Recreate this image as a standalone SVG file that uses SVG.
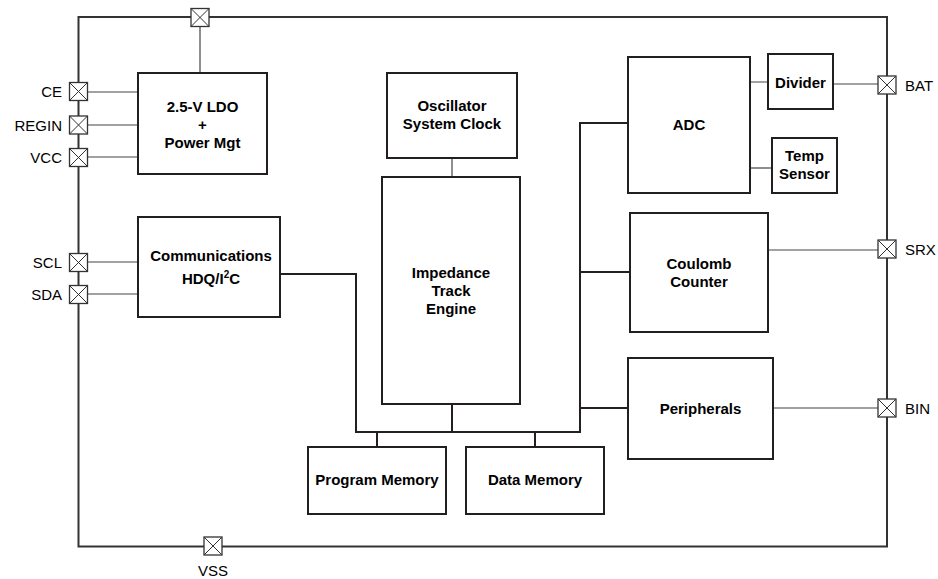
<svg xmlns="http://www.w3.org/2000/svg" width="938" height="579" viewBox="0 0 938 579">
<defs>
<style>
.box{fill:#fff;stroke:#231f20;stroke-width:2}
.bold{font-family:"Liberation Sans",Arial,sans-serif;font-weight:bold;font-size:15px;fill:#000;text-anchor:middle}
.lbl{font-family:"Liberation Sans",Arial,sans-serif;font-size:15px;fill:#000}
.thin{fill:none;stroke:#444;stroke-width:1.2}
.bus{fill:none;stroke:#231f20;stroke-width:2}
.border{fill:none;stroke:#333;stroke-width:2}
.pin rect{fill:#fff;stroke:#333;stroke-width:1.3}
.pin path{stroke:#333;stroke-width:1;fill:none}
</style>
<g id="pinsym" class="pin"><rect x="-9" y="-9" width="18" height="18"/><path d="M-9,-9 L9,9 M9,-9 L-9,9"/></g>
</defs>
<rect width="938" height="579" fill="#fff"/>
<rect id="chip" class="border" x="78.5" y="17" width="808.5" height="529.5"/>

<g id="connectors">
<path class="thin" d="M200,26 V73"/>
<path class="thin" d="M88,92 H138 M88,125 H138 M88,157 H138"/>
<path class="thin" d="M88,262 H138 M88,294 H138"/>
<path class="thin" d="M452,158 V177"/>
<path class="thin" d="M750,82 H768 M833,84 H878"/>
<path class="thin" d="M750,168 H772"/>
<path class="thin" d="M768,250 H878"/>
<path class="thin" d="M773,408 H878"/>
<path class="bus" d="M280,274 H356 V432 H580 V123 H628"/>
<path class="bus" d="M580,272 H630"/>
<path class="bus" d="M580,408 H628"/>
<path class="bus" d="M452,404 V432"/>
<path class="bus" d="M377,432 V447"/>
<path class="bus" d="M535,432 V447"/>
</g>

<g id="pins">
<use href="#pinsym" x="200" y="17.5"/>
<use href="#pinsym" x="78.5" y="91.5"/>
<use href="#pinsym" x="78.5" y="125"/>
<use href="#pinsym" x="78.5" y="157.5"/>
<use href="#pinsym" x="78.5" y="262.5"/>
<use href="#pinsym" x="78.5" y="294.5"/>
<use href="#pinsym" x="887" y="85"/>
<use href="#pinsym" x="887" y="249"/>
<use href="#pinsym" x="887" y="408"/>
<use href="#pinsym" x="213" y="546"/>
<g class="lbl">
<text x="62" y="97" text-anchor="end">CE</text>
<text x="62" y="130.5" text-anchor="end">REGIN</text>
<text x="62" y="162.5" text-anchor="end">VCC</text>
<text x="62" y="267.5" text-anchor="end">SCL</text>
<text x="62" y="300" text-anchor="end">SDA</text>
<text x="905" y="90.5">BAT</text>
<text x="905" y="254.5">SRX</text>
<text x="905" y="413.5">BIN</text>
<text x="213" y="576" text-anchor="middle">VSS</text>
</g>
</g>

<g id="ldo"><rect class="box" x="138" y="73" width="129" height="101"/>
<text class="bold" x="202.5" y="112">2.5-V LDO</text><text class="bold" x="202.5" y="130">+</text><text class="bold" x="202.5" y="148">Power Mgt</text></g>

<g id="comm"><rect class="box" x="138" y="217" width="142" height="100"/>
<text class="bold" x="211" y="261">Communications</text><text class="bold" x="211" y="284">HDQ/I<tspan font-size="10" dy="-6">2</tspan><tspan dy="6">C</tspan></text></g>

<g id="osc"><rect class="box" x="387" y="73" width="130" height="85"/>
<text class="bold" x="452" y="111">Oscillator</text><text class="bold" x="452" y="129">System Clock</text></g>

<g id="engine"><rect class="box" x="382" y="177" width="138" height="227"/>
<text class="bold" x="451" y="278">Impedance</text><text class="bold" x="451" y="296">Track</text><text class="bold" x="451" y="314">Engine</text></g>

<g id="progmem"><rect class="box" x="308" y="447" width="138" height="67"/>
<text class="bold" x="377" y="485">Program Memory</text></g>

<g id="datamem"><rect class="box" x="466" y="447" width="138" height="67"/>
<text class="bold" x="535" y="485">Data Memory</text></g>

<g id="adc"><rect class="box" x="628" y="57" width="122" height="136"/>
<text class="bold" x="689" y="130">ADC</text></g>

<g id="divider"><rect class="box" x="768" y="54" width="65" height="55"/>
<text class="bold" x="800.5" y="88">Divider</text></g>

<g id="temp"><rect class="box" x="772" y="138" width="65" height="55"/>
<text class="bold" x="804.5" y="161">Temp</text><text class="bold" x="804.5" y="179">Sensor</text></g>

<g id="coulomb"><rect class="box" x="630" y="213" width="138" height="119"/>
<text class="bold" x="699" y="269">Coulomb</text><text class="bold" x="699" y="287">Counter</text></g>

<g id="peripherals"><rect class="box" x="628" y="358" width="145" height="101"/>
<text class="bold" x="700.5" y="414">Peripherals</text></g>
</svg>
